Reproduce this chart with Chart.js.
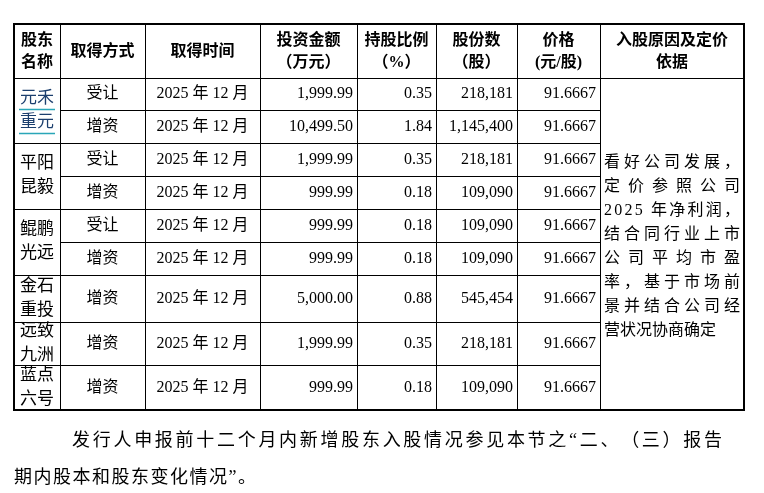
<!DOCTYPE html>
<html><head><meta charset="utf-8">
<script src="https://cdn.jsdelivr.net/npm/chart.js@4"></script>
<style>html,body{margin:0;background:#fff}#wrap{width:764px;height:493px}</style>
</head><body><div id="wrap"><canvas id="c"></canvas></div>
<script>
// table data
const headers = ['股东\n名称', '取得方式', '取得时间', '投资金额\n（万元）', '持股比例\n（%）', '股份数\n（股）', '价格\n(元/股)', '入股原因及定价\n依据'];
const holders = [['元禾\n重元', 2], ['平阳\n昆毅', 2], ['鲲鹏\n光远', 2], ['金石\n重投', 1], ['远致\n九洲', 1], ['蓝点\n六号', 1]];
const methods = ['受让', '增资', '受让', '增资', '受让', '增资', '增资', '增资', '增资'];
const dates = ['2025 年 12 月', '2025 年 12 月', '2025 年 12 月', '2025 年 12 月', '2025 年 12 月', '2025 年 12 月', '2025 年 12 月', '2025 年 12 月', '2025 年 12 月'];
const amounts = ['1,999.99', '10,499.50', '1,999.99', '999.99', '999.99', '999.99', '5,000.00', '1,999.99', '999.99'];
const ratios = ['0.35', '1.84', '0.35', '0.18', '0.18', '0.18', '0.88', '0.35', '0.18'];
const shares = ['218,181', '1,145,400', '218,181', '109,090', '109,090', '109,090', '545,454', '218,181', '109,090'];
const prices = ['91.6667', '91.6667', '91.6667', '91.6667', '91.6667', '91.6667', '91.6667', '91.6667', '91.6667'];
const reasonLines = ['看好公司发展，', '定价参照公司', '2025 年净利润，', '结合同行业上市', '公司平均市盈', '率，基于市场前', '景并结合公司经', '营状况协商确定'];
const footer = ['发行人申报前十二个月内新增股东入股情况参见本节之“二、（三）报告', '期内股本和股东变化情况”。'];

// layout
const colX = [14, 60, 145, 260, 357, 436, 517, 600, 744];
const rowY = [24, 78, 110, 143, 176, 209, 242, 275, 322, 365, 410];
const FONT = '"Liberation Serif","Noto Sans CJK SC",serif';

const tablePlugin = {
  id: 'table',
  afterDraw(chart) {
    const ctx = chart.ctx;
    ctx.save();
    ctx.fillStyle = '#000';
    ctx.textBaseline = 'middle';
    const cx = i => (colX[i] + colX[i + 1]) / 2;
    const lines = (txt, x, yc, align, lh) => {
      const ls = txt.split('\n');
      ctx.textAlign = align;
      ls.forEach((l, k) => ctx.fillText(l, x, yc + (k - (ls.length - 1) / 2) * lh));
    };
    const justify = (txt, x0, x1, y) => {
      const chars = [...txt];
      const w = chars.reduce((s, ch) => s + ctx.measureText(ch).width, 0);
      const gap = (x1 - x0 - w) / (chars.length - 1);
      let x = x0;
      ctx.textAlign = 'left';
      chars.forEach(ch => { ctx.fillText(ch, x, y); x += ctx.measureText(ch).width + gap; });
    };
    // header
    ctx.font = 'bold 16px ' + FONT;
    headers.forEach((h, i) => lines(h, cx(i), (rowY[0] + rowY[1]) / 2 + 1, 'center', 22));
    // body
    ctx.font = '17px ' + FONT;
    let r = 0;
    holders.forEach(([name, span]) => {
      const y0 = rowY[r + 1], y1 = rowY[r + 1 + span];
      const yc = (y0 + y1) / 2;
      ctx.fillStyle = r === 0 ? '#1c3f6e' : '#000';
      lines(name, cx(0), yc, 'center', 24);
      if (r === 0) {
        ctx.strokeStyle = '#2aa6b8'; ctx.lineWidth = 1.5;
        [yc - 12, yc + 12].forEach(yy => {
          ctx.beginPath(); ctx.moveTo(cx(0) - 18, yy + 11); ctx.lineTo(cx(0) + 18, yy + 11); ctx.stroke();
        });
      }
      ctx.fillStyle = '#000';
      r += span;
    });
    ctx.font = '16px ' + FONT;
    methods.forEach((m, k) => {
      const yc = (rowY[k + 1] + rowY[k + 2]) / 2;
      ctx.textAlign = 'center';
      ctx.fillText(m, cx(1), yc);
      ctx.fillText(dates[k], cx(2), yc);
      ctx.textAlign = 'right';
      ctx.fillText(amounts[k], colX[4] - 4, yc);
      ctx.fillText(ratios[k], colX[5] - 4, yc);
      ctx.fillText(shares[k], colX[6] - 4, yc);
      ctx.fillText(prices[k], colX[7] - 4, yc);
    });
    // merged reason cell, justified
    reasonLines.forEach((l, k) => {
      const y = 163 + k * 24;
      if (k === reasonLines.length - 1) { ctx.textAlign = 'left'; ctx.fillText(l, colX[7] + 4, y); }
      else justify(l, colX[7] + 4, colX[8] - 4, y);
    });
    // grid
    ctx.strokeStyle = '#000'; ctx.lineWidth = 1;
    const line = (x0, y0, x1, y1) => { ctx.beginPath(); ctx.moveTo(x0, y0); ctx.lineTo(x1, y1); ctx.stroke(); };
    for (let i = 1; i < colX.length - 1; i++) line(colX[i] + .5, rowY[0], colX[i] + .5, rowY[rowY.length - 1]);
    line(colX[0], rowY[1] + .5, colX[8], rowY[1] + .5);
    let acc = 0;
    const holderEnds = holders.map(([, s]) => (acc += s));
    for (let k = 2; k < rowY.length - 1; k++) {
      const start = holderEnds.includes(k - 1) ? colX[0] : colX[1];
      line(start, rowY[k] + .5, colX[7], rowY[k] + .5);
    }
    ctx.lineWidth = 2;
    ctx.strokeRect(colX[0], rowY[0], colX[8] - colX[0], rowY[rowY.length - 1] - rowY[0]);
    // footer text
    ctx.font = '18px ' + FONT;
    justify(footer[0], 72, 722, 441);
    ctx.textAlign = 'left';
    let x = 14;
    [...footer[1]].forEach(ch => { ctx.fillText(ch, x, 478); x += ctx.measureText(ch).width + 1.5; });
    ctx.restore();
  }
};

new Chart(document.getElementById('c'), {
  type: 'bar',
  data: { labels: [], datasets: [] },
  options: {
    responsive: true,
    maintainAspectRatio: false,
    animation: false,
    plugins: { legend: { display: false }, tooltip: { enabled: false } },
    scales: { x: { display: false }, y: { display: false } }
  },
  plugins: [tablePlugin]
});
</script></body></html>
